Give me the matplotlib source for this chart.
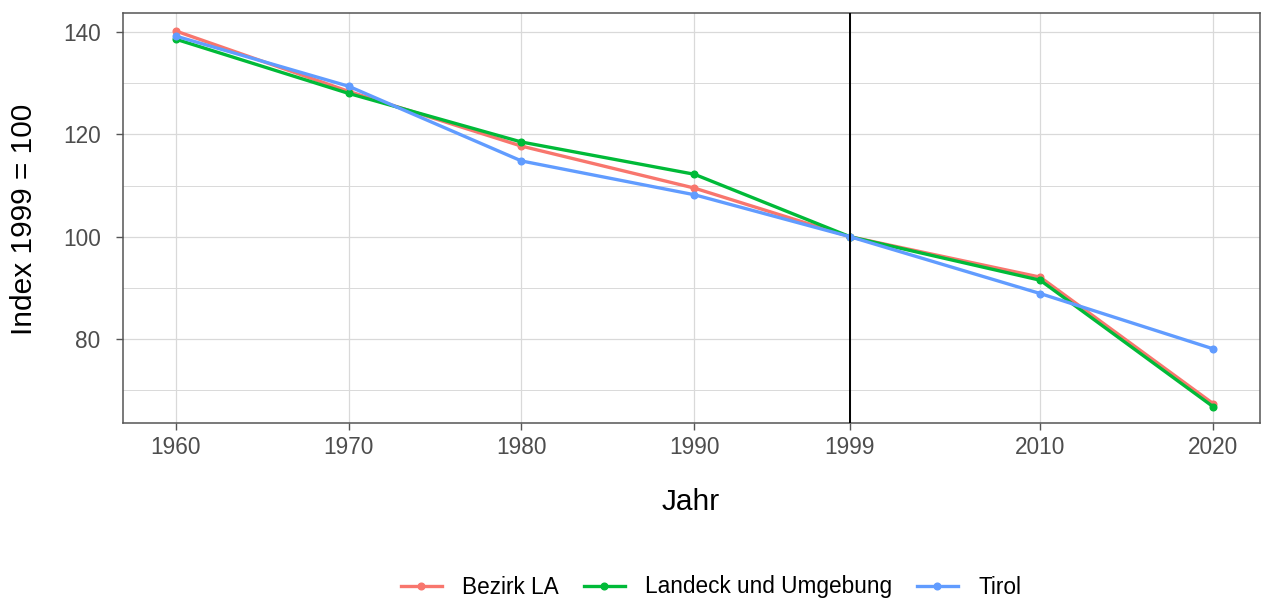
import numpy as np
import matplotlib.pyplot as plt

plt.rcParams['font.family'] = ['Liberation Sans', 'DejaVu Sans']

jahre = [1960, 1970, 1980, 1990, 1999, 2010, 2020]
bezirk_la = [140.2, 128.4, 117.7, 109.5, 100.0, 92.1, 67.4]
landeck = [138.6, 128.0, 118.5, 112.2, 100.0, 91.5, 66.8]
tirol = [139.2, 129.4, 114.8, 108.2, 100.0, 88.9, 78.1]

serien = [('Bezirk LA', bezirk_la, '#F8766D'),
          ('Landeck und Umgebung', landeck, '#00BA38'),
          ('Tirol', tirol, '#619CFF')]

fig = plt.figure(figsize=(12.61, 5.98), dpi=100)
ax = fig.add_axes([0.0975, 0.2926, 0.9015, 0.6856])

for name, werte, farbe in serien:
    ax.plot(jahre, werte, color=farbe, lw=2.4, marker='o', ms=4.8, label=name, zorder=3)

# Referenzjahr
ax.axvline(1999, color='black', lw=1.4, zorder=4)

ax.set_xlim(1956.95, 2022.7)
ax.set_ylim(63.6, 143.7)
ax.set_xticks(jahre)
ax.set_xticklabels([str(j) for j in jahre])
ax.set_yticks([80, 100, 120, 140])
ax.set_yticks([70, 90, 110, 130], minor=True)

ax.grid(True, which='major', color='#d9d9d9', lw=0.9)
ax.grid(True, which='minor', axis='y', color='#d9d9d9', lw=0.7)
ax.set_axisbelow(True)

for s in ax.spines.values():
    s.set_color('#555555')
    s.set_linewidth(1.1)

ax.tick_params(axis='both', which='major', labelsize=16.3, colors='#555555',
               labelcolor='#4d4d4d', length=5, width=1)
ax.tick_params(axis='x', which='major', pad=4)
ax.tick_params(axis='y', which='major', pad=11)
ax.tick_params(axis='y', which='minor', length=0)

fig.text(691 / 1261, 1 - 510 / 598, 'Jahr', fontsize=21.5, ha='center', va='baseline')
fig.text(24 / 1261, 1 - 219 / 598, 'Index 1999 = 100', fontsize=21.5, rotation=90,
         ha='center', va='center')

fig.legend(loc='center', bbox_to_anchor=(711 / 1261, 1 - 587 / 598), ncol=3, frameon=False,
           fontsize=16.3, handlelength=1.8, columnspacing=1.1, handletextpad=0.9)

fig.savefig('out.png', dpi=100)
